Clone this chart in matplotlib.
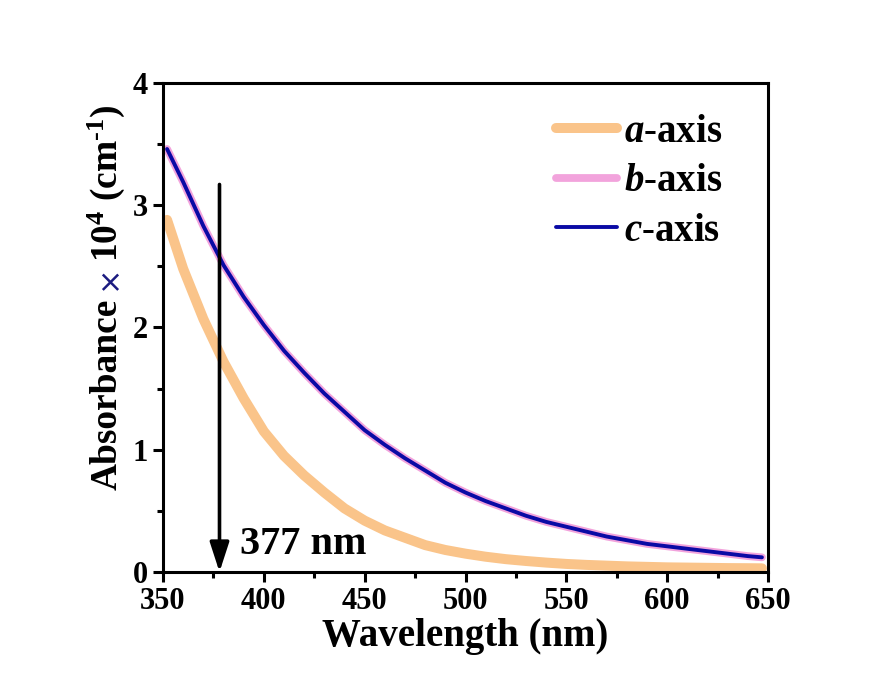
"""Absorbance spectra along the a, b and c axes."""

import matplotlib

matplotlib.use("Agg")
import matplotlib.pyplot as plt  # noqa: E402
from matplotlib.ticker import MultipleLocator  # noqa: E402

# values
wavelength = [352, 360, 370, 380, 390, 400, 410, 420, 430, 440, 450, 460,
              470, 480, 490, 500, 510, 520, 530, 540, 550, 560, 570, 580,
              590, 600, 610, 620, 630, 640, 647]
a_axis = [2.88, 2.48, 2.07, 1.72, 1.42, 1.15, 0.95, 0.79, 0.65, 0.52, 0.42,
          0.34, 0.28, 0.22, 0.18, 0.15, 0.125, 0.105, 0.09, 0.077, 0.066,
          0.058, 0.052, 0.046, 0.042, 0.038, 0.036, 0.034, 0.032, 0.031, 0.03]
b_axis = [3.46, 3.19, 2.83, 2.51, 2.25, 2.02, 1.81, 1.63, 1.46, 1.31, 1.16,
          1.04, 0.93, 0.83, 0.73, 0.65, 0.58, 0.52, 0.46, 0.41, 0.37, 0.33,
          0.29, 0.26, 0.23, 0.21, 0.19, 0.17, 0.15, 0.13, 0.12]
c_axis = [3.46, 3.19, 2.83, 2.51, 2.25, 2.02, 1.81, 1.63, 1.46, 1.31, 1.16,
          1.04, 0.93, 0.83, 0.73, 0.65, 0.58, 0.52, 0.46, 0.41, 0.37, 0.33,
          0.29, 0.26, 0.23, 0.21, 0.19, 0.17, 0.15, 0.13, 0.12]
series_labels = [r"$\mathbfit{a}$-axis", r"$\mathbfit{b}$-axis", r"$\mathbfit{c}$-axis"]
arrow_nm = 378
arrow_top = 3.17
arrow_text = "377 nm"

plt.rcParams.update({
    "font.family": "Liberation Serif",
    "font.weight": "bold",
    "mathtext.fontset": "custom",
    "mathtext.rm": "Liberation Serif:bold",
    "mathtext.bf": "Liberation Serif:bold",
    "mathtext.it": "Liberation Serif:italic:bold",
    "mathtext.bfit": "Liberation Serif:italic:bold",
})

fig = plt.figure(figsize=(8.77, 6.77), dpi=100)
ax = fig.add_axes([0.1859, 0.1551, 0.6898, 0.7223])

ax.plot(wavelength, a_axis, color="#fac48a", lw=7.2, solid_capstyle="round",
        label=series_labels[0])
ax.plot(wavelength, b_axis, color="#f2a3dc", lw=5.6, solid_capstyle="round",
        label=series_labels[1])
ax.plot(wavelength, c_axis, color="#0a0aa5", lw=2.8, solid_capstyle="round",
        label=series_labels[2])

ax.annotate("", xy=(arrow_nm, 0), xytext=(arrow_nm, arrow_top),
            arrowprops=dict(arrowstyle="-|>,head_length=0.4,head_width=0.13",
                            lw=2.6, color="black", mutation_scale=45,
                            shrinkA=0, shrinkB=0))
ax.text(388, 0.15, arrow_text, fontsize=29, fontweight="bold", ha="left",
        va="baseline")

ax.set_xlim(350, 650)
ax.set_ylim(0, 4)
ax.xaxis.set_major_locator(MultipleLocator(50))
ax.xaxis.set_minor_locator(MultipleLocator(25))
ax.yaxis.set_major_locator(MultipleLocator(1))
ax.yaxis.set_minor_locator(MultipleLocator(0.5))
ax.tick_params(which="major", direction="out", length=7, width=2.2,
               labelsize=22, pad=4)
ax.tick_params(which="minor", direction="out", length=4, width=2.2)
for s in ax.spines.values():
    s.set_linewidth(2.2)

ax.set_xlabel("Wavelength (nm)", fontsize=28, fontweight="bold", labelpad=1)

leg = ax.legend(loc="upper right", bbox_to_anchor=(0.925, 0.937), frameon=False,
                fontsize=28, handlelength=1.55, handletextpad=0.2,
                labelspacing=0.32, borderpad=0, borderaxespad=0)

# y label built from pieces so the multiplication sign can be coloured
fig.canvas.draw()
r = fig.canvas.get_renderer()
x0 = 117 / 877
y_px = 677 - 490
pieces = [("Absorbance", "black", "Liberation Serif", "bold", 27),
          ("\u00d7", "#1a1a80", "DejaVu Sans", "normal", 22),
          ("10$^{4}$ (cm$^{\\text{-}1}$)", "black", "Liberation Serif", "bold", 27)]
gaps = [9, 2, 0]
for (txt, col, fam, wt, fs), gap in zip(pieces, gaps):
    t = fig.text(x0, y_px / 677, txt, rotation=90, rotation_mode="anchor",
                 ha="left", va="baseline", fontsize=fs, color=col,
                 family=fam, fontweight=wt)
    bb = t.get_window_extent(r)
    y_px += bb.height + gap

fig.savefig("out.png", dpi=100)
